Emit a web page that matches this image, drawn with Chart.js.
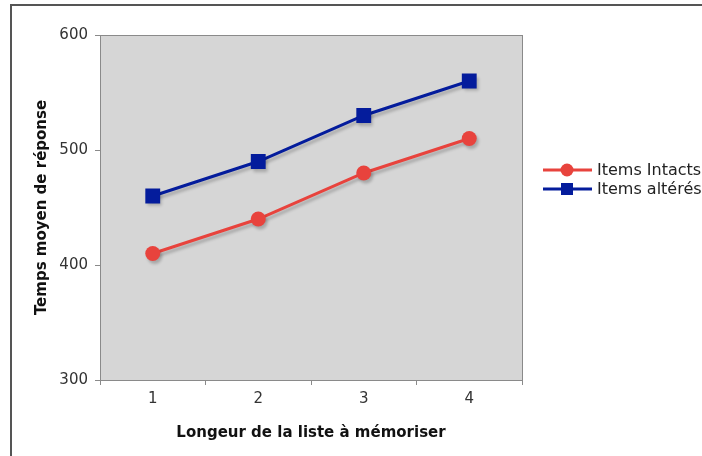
<!DOCTYPE html>
<html>
<head>
<meta charset="utf-8">
<script src="https://cdn.jsdelivr.net/npm/chart.js@4.4.1/dist/chart.umd.min.js"></script>
<style>
  html, body { margin: 0; padding: 0; background: #fff; overflow: hidden; }
  #wrap { width: 702px; height: 456px; position: relative; }
</style>
</head>
<body>
<div id="wrap"><canvas id="c" width="702" height="456"></canvas></div>
<script>
// List length (x categories)
const categories = ['1', '2', '3', '4'];
// Mean response time per list length
const intactItems = [410, 440, 480, 510];
const alteredItems = [460, 490, 530, 560];
const seriesNames = ['Items Intacts', 'Items altérés'];
const yTicks = [300, 400, 500, 600];

const RED = '#e8433d';
const BLUE = '#041c9c';
const FONT = '"DejaVu Sans", Verdana, sans-serif';

// Frame, grey plot background and border; soft shadow under the series
const framePlugin = {
  id: 'frame',
  beforeDraw(chart) {
    const { ctx, chartArea: a } = chart;
    ctx.save();
    ctx.fillStyle = '#fff';
    ctx.fillRect(0, 0, chart.width, chart.height);
    ctx.strokeStyle = '#555';
    ctx.lineWidth = 2;
    ctx.beginPath();
    ctx.moveTo(11, chart.height);
    ctx.lineTo(11, 5);
    ctx.lineTo(chart.width, 5);
    ctx.stroke();
    ctx.fillStyle = '#d6d6d6';
    ctx.fillRect(a.left, a.top, a.right - a.left, a.bottom - a.top);
    ctx.strokeStyle = '#8a8a8a';
    ctx.lineWidth = 1;
    ctx.strokeRect(a.left + 0.5, a.top + 0.5, a.right - a.left, a.bottom - a.top);
    ctx.restore();
  },
  beforeDatasetsDraw(chart) {
    const ctx = chart.ctx;
    ctx.save();
    ctx.shadowColor = 'rgba(0,0,0,0.22)';
    ctx.shadowOffsetX = 2;
    ctx.shadowOffsetY = 3;
    ctx.shadowBlur = 3;
  },
  afterDatasetsDraw(chart) {
    chart.ctx.restore();
  }
};

// Legend: short line with the series marker, then the name
const legendPlugin = {
  id: 'sideLegend',
  afterDraw(chart) {
    const { ctx, chartArea: a } = chart;
    const x0 = a.right + 21;
    const y0 = 170;
    const rowH = 19;
    ctx.save();
    chart.data.datasets.forEach((ds, i) => {
      const y = y0 + i * rowH;
      ctx.strokeStyle = ds.borderColor;
      ctx.lineWidth = 3;
      ctx.beginPath();
      ctx.moveTo(x0, y);
      ctx.lineTo(x0 + 49, y);
      ctx.stroke();
      ctx.fillStyle = ds.pointBackgroundColor;
      const cx = x0 + 24;
      if (ds.pointStyle === 'rect') {
        ctx.fillRect(cx - 6, y - 6, 12, 12);
      } else {
        ctx.beginPath();
        ctx.arc(cx, y, 6.5, 0, Math.PI * 2);
        ctx.fill();
      }
      ctx.fillStyle = '#222';
      ctx.font = '16px ' + FONT;
      ctx.textBaseline = 'middle';
      ctx.textAlign = 'left';
      ctx.fillText(ds.label, x0 + 54, y + 1);
    });
    ctx.restore();
  }
};

new Chart(document.getElementById('c'), {
  type: 'line',
  data: {
    labels: categories,
    datasets: [
      {
        label: seriesNames[0],
        data: intactItems,
        borderColor: RED,
        backgroundColor: RED,
        pointBackgroundColor: RED,
        pointBorderWidth: 0,
        pointStyle: 'circle',
        pointRadius: 7.5,
        borderWidth: 3,
        tension: 0
      },
      {
        label: seriesNames[1],
        data: alteredItems,
        borderColor: BLUE,
        backgroundColor: BLUE,
        pointBackgroundColor: BLUE,
        pointBorderWidth: 0,
        pointStyle: 'rect',
        pointRadius: 10.5,
        borderWidth: 3,
        tension: 0
      }
    ]
  },
  options: {
    responsive: false,
    animation: false,
    layout: { padding: { left: 20, top: 35, right: 180, bottom: 0 } },
    plugins: {
      legend: { display: false },
      tooltip: { enabled: false }
    },
    scales: {
      x: {
        offset: true,
        grid: {
          display: true,
          offset: true,
          drawOnChartArea: false,
          drawTicks: true,
          tickLength: 5,
          color: '#8a8a8a'
        },
        border: { display: false },
        ticks: {
          color: '#333',
          padding: 5,
          font: { family: FONT, size: 15 }
        },
        title: {
          display: true,
          text: 'Longeur de la liste à mémoriser',
          color: '#111',
          font: { family: FONT, size: 15, weight: 'bold' },
          padding: { top: 0, bottom: 14 }
        },
        afterFit(scale) { scale.height = 76; }
      },
      y: {
        min: 300,
        max: 600,
        afterBuildTicks(scale) { scale.ticks = yTicks.map(v => ({ value: v })); },
        grid: {
          display: true,
          drawOnChartArea: false,
          drawTicks: true,
          tickLength: 5,
          color: '#8a8a8a'
        },
        border: { display: false },
        ticks: {
          color: '#333',
          padding: 7,
          font: { family: FONT, size: 15 }
        },
        title: {
          display: true,
          text: 'Temps moyen de réponse',
          color: '#111',
          font: { family: FONT, size: 15, weight: 'bold' },
          padding: { top: 13, bottom: 0 }
        },
        afterFit(scale) { scale.width = 80; }
      }
    }
  },
  plugins: [framePlugin, legendPlugin]
});
</script>
</body>
</html>
